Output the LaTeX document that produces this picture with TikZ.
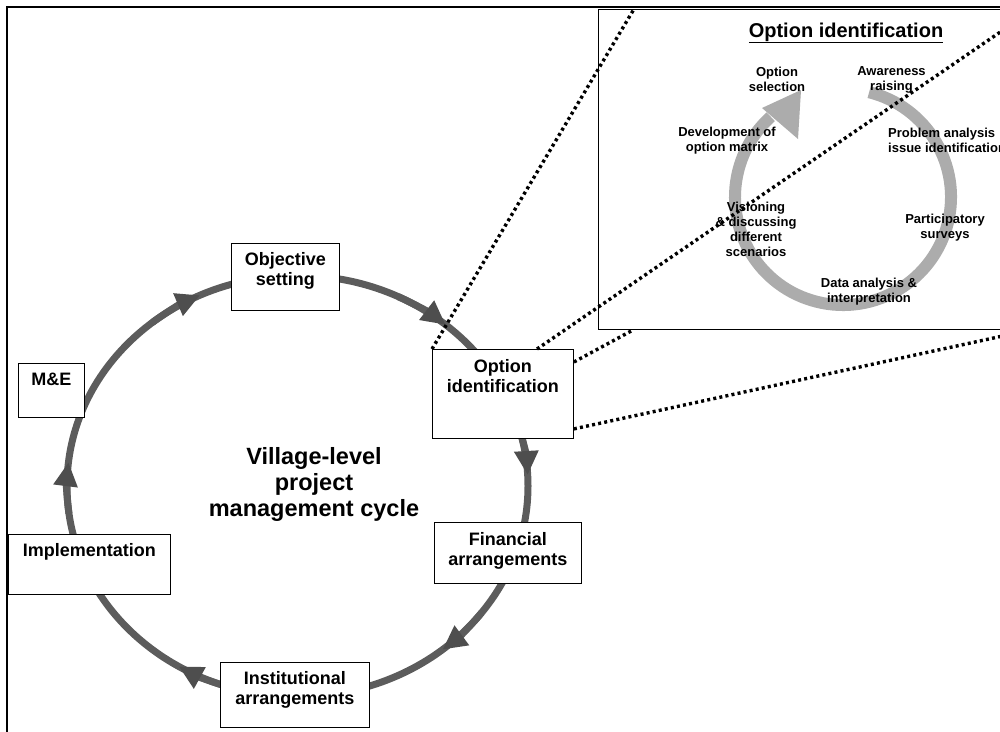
\documentclass[tikz,border=0pt]{standalone}
\usepackage{fontspec}
\setmainfont{Liberation Sans}
\usetikzlibrary{arrows.meta,calc}
\definecolor{cycgray}{RGB}{92,92,92}
\definecolor{tipgray}{RGB}{78,78,78}
\definecolor{insgray}{RGB}{172,172,172}
\newcommand\boxtxt[4]{\parbox[t][#2pt][t]{#1pt}{\centering\rule{0pt}{#3pt}#4}}
\begin{document}
\begin{tikzpicture}[x=1pt,y=-1pt,
  box/.style={draw=black, line width=0.9pt, fill=white, inner sep=0pt, anchor=north west,
    font=\bfseries\fontsize{18}{20}\selectfont},
  itxt/.style={font=\bfseries\fontsize{13}{15}\selectfont, align=center, inner sep=0pt},
  cyc/.style={draw=cycgray, line width=7pt},
  zoomline/.style={line width=3.4pt, dash pattern=on 3pt off 3.2pt},
  framepen/.style={line width=2.5pt}]
\useasboundingbox (0,0) rectangle (1000,731);
\coordinate (C) at (297.5,486);
% main cycle
\draw[cyc] (C) ellipse [x radius=230.5, y radius=210.5];
\foreach \t in {245,310,357,51,121,186.5}{
  \draw[cyc, -{Triangle[length=24pt,width=23pt,color=tipgray]}]
    ($(C)+(\t-14:230.5 and 210.5)$) arc[start angle=\t-14, end angle=\t, x radius=230.5, y radius=210.5];
}
% boxes
\node[box] (obj) at (231,243) {\boxtxt{108}{67}{22.5}{Objective\\setting}};
\node[box] (opt) at (432,349) {\boxtxt{141}{89}{23.5}{Option\\identification}};
\node[box] (me) at (18,363) {\boxtxt{66}{54}{22.5}{M\&E}};
\node[box] (impl) at (8,534) {\boxtxt{162}{60}{22.5}{Implementation}};
\node[box] (fin) at (434,522) {\boxtxt{147}{61}{23}{Financial\\arrangements}};
\node[box] (inst) at (220,662) {\boxtxt{149}{65}{22}{Institutional\\arrangements}};
\node[font=\bfseries\fontsize{23.5}{26}\selectfont, align=center] (title) at (314,484)
  {Village-level\\project\\management cycle};
% zoom line behind inset
\coordinate (z3) at (633,330);
\draw[zoomline] ($(opt.north east)+(0,13)$) -- (z3);
% inset
\node[draw, fill=white, line width=0.9pt, anchor=north west, minimum width=420pt,
  minimum height=320pt, inner sep=0pt] (inset) at (598,9) {};
\node[font=\bfseries\fontsize{20}{24}\selectfont, anchor=base] (ititle) at (846,37)
  {\underline{Option identification}};
\draw[line width=12pt, draw=insgray] (843,197) ++(-76:108) arc[start angle=-76, end angle=228, radius=108];
\fill[insgray] (801,90) -- (762,108) -- (798,139) -- cycle;
\node[itxt] (osel) at (777,79.5) {Option\\selection};
\node[itxt] (aware) at (891.5,79.5) {Awareness\\raising};
\node[itxt] (devm) at (727,140.5) {Development of\\option matrix};
\node[itxt, align=left, anchor=west] (prob) at (888,140.5) {Problem analysis\\issue identification};
\node[itxt] (vis) at (756,229.5) {Visioning\\\& discussing\\different\\scenarios};
\node[itxt] (part) at (945,227.5) {Participatory\\surveys};
\node[itxt] (data) at (869,291.5) {Data analysis \&\\interpretation};
% zoom lines on top
\coordinate (z1) at (634,9);
\coordinate (z2) at (1012,24);
\coordinate (z4) at (1012,334);
\draw[zoomline] (opt.north west) -- (z1);
\draw[zoomline] ($(opt.north west)+(105,0)$) -- (z2);
\draw[zoomline] ($(opt.south east)+(0,-10)$) -- (z4);
% frame
\draw[framepen] (7,745) -- (7,7) -- (1015,7);
\end{tikzpicture}
\end{document}
